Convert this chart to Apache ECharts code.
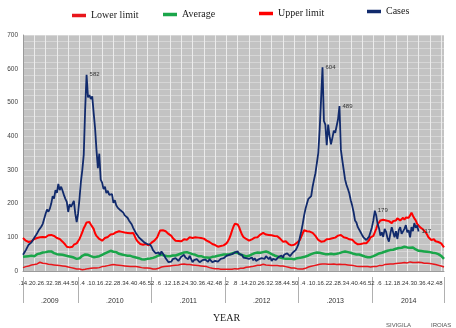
<!DOCTYPE html>
<html>
<head>
<meta charset="utf-8">
<script src="https://cdn.jsdelivr.net/npm/echarts@6/dist/echarts.min.js"></script>
<style>
  html, body { margin: 0; padding: 0; background: #ffffff; }
  #chart { width: 456px; height: 328px; }
</style>
</head>
<body>
<div id="chart"></div>
<script>
// Weekly surveillance series, 2009 week 14 to 2014 week 52
const years = [2009, 2010, 2011, 2012, 2013, 2014];
const yearLabels = ['.2009', '.2010', '.2011', '.2012', '.2013', '2014'];
const firstWeek = 14;
const weeksPerYear = 52;
const labeledCases = [582, 604, 489, 179, 117];

const lowerLimit = [
  10,12,13,14,15,17,18,20,19,22, 21,24,26,25,23,24,22,21,20,21, 19,20,18,19,17,18,16,17,15,16, 14,14,12,13,10,9,8,7,6,
  5,6,5,4,6,5,6,7,6,8, 7,9,10,9,11,10,12,13,12,14, 15,16,17,18,17,19,20,18,19,17, 18,16,17,15,16,14,15,13,14,13, 12,13,11,12,12,10,11,9,8,9, 7,8,
  7,6,7,6,6,8,10,12,14,13, 15,14,16,15,17,16,18,17,19,18, 19,20,19,21,20,19,18,19,17,18, 16,17,15,16,14,15,13,14,12,13, 11,10,9,8,8,7,6,7,6,5, 6,5,
  6,5,6,5,6,5,6,7,6,6, 7,8,9,8,10,11,10,12,12,13, 14,15,16,17,18,17,19,20,19,18, 19,17,18,16,17,16,15,16,14,15, 14,15,14,13,12,11,10,9,8,9, 8,7,
  7,6,7,6,6,8,10,12,13,14, 15,16,17,18,19,20,19,21,20,21, 19,20,21,20,19,21,20,19,21,20, 20,19,18,19,17,18,16,17,15,16, 15,14,14,13,14,13,12,13,12,13, 12,12,
  12,13,14,13,15,16,17,16,18,19, 18,20,20,21,22,21,23,22,24,23, 25,24,26,25,26,24,25,27,26,25, 26,25,26,26,24,25,24,23,22,23, 21,22,20,21,20,19,18,17,16,15, 14,12
];

const average = [
  42,40,43,41,44,43,45,46,44,48, 50,49,52,54,55,53,56,55,58,57, 58,55,53,54,50,52,49,47,48,45, 46,43,44,41,42,39,40,37,36,
  36,38,42,45,47,49,50,48,46,44, 42,41,40,42,41,44,46,48,49,52, 54,56,58,60,58,57,55,56,53,51, 50,49,50,47,46,45,44,45,43,42, 43,40,39,38,37,35,36,34,35,36, 35,37,
  37,39,40,42,44,46,48,49,47,46, 45,44,43,44,45,46,47,46,48,49, 50,52,53,55,54,56,55,53,52,50, 49,48,46,44,43,44,42,41,42,40, 41,39,40,42,41,43,44,45,46,47, 48,49,
  48,49,50,49,51,52,54,55,54,53, 51,49,47,46,44,43,44,45,47,49, 51,53,54,55,56,54,55,56,57,58, 56,55,53,50,48,46,44,43,42,40, 39,38,37,36,35,36,35,36,34,35, 36,38,
  38,39,40,41,42,43,44,46,48,50, 51,53,54,55,55,54,53,52,51,50, 49,50,49,51,52,50,49,51,52,53, 55,56,57,58,57,56,55,54,53,51, 50,49,48,49,47,46,44,43,42,41, 40,41,
  42,44,46,48,50,52,55,54,56,57, 58,60,61,62,64,63,65,66,67,68, 70,69,71,72,72,70,71,69,72,70, 66,64,62,60,58,59,57,58,56,57, 55,56,55,54,55,53,52,50,48,45, 42,36
];

const upperLimit = [
  98,94,90,88,86,84,88,92,95,97, 98,96,100,99,101,103,100,104,106,105, 107,102,104,100,98,99,95,92,87,84, 78,72,75,70,74,72,78,76,82,
  87,95,105,115,127,135,144,140,145,138, 136,125,112,104,101,95,92,90,94,98, 97,101,104,108,106,110,113,115,112,118, 121,116,118,114,110,113,108,112,110,113, 104,95,88,84,80,82,78,76,80,78, 76,80,
  84,88,90,92,100,110,120,124,121,126, 118,115,110,107,104,98,95,90,87,89, 90,88,92,94,96,93,97,100,101,98, 102,100,96,99,97,98,94,96,92,90, 88,86,84,80,82,77,74,72,76,74, 78,76,
  78,82,88,96,107,120,132,140,142,138, 130,118,108,101,97,95,92,90,92,94, 96,99,101,100,104,108,110,113,111,108, 110,107,104,106,102,104,101,103,99,96, 92,87,85,88,84,80,78,76,80,78, 82,84,
  84,92,102,112,121,124,118,121,117,115, 113,108,104,98,92,89,87,90,88,91, 94,92,95,98,97,101,99,103,105,102, 107,104,100,102,98,96,94,92,93,88, 84,82,79,78,80,78,82,84,82,86, 92,100,
  98,104,107,125,138,144,150,154,152,156, 150,146,148,144,142,148,152,150,156,154, 150,155,158,152,159,162,158,165,173,164, 156,150,140,135,130,128,124,121,115,108, 100,96,92,90,94,88,87,86,84,82, 78,70
];

const cases = [
  48,55,62,70,78,74,85,92,90,105, 112,120,118,132,140,155,170,182,176,185, 200,222,215,240,232,258,240,250,238,225, 214,205,175,198,190,185,208,170,145,
  170,215,265,300,345,480,582,515,522,510, 518,470,425,360,305,348,271,262,243,250, 231,238,226,222,228,202,210,195,188,192, 180,178,173,165,160,158,150,144,138,128, 120,112,107,100,96,92,87,84,88,80, 76,78,
  72,62,58,52,49,55,48,58,52,45, 38,32,26,30,28,35,32,38,35,30, 35,42,38,48,40,45,35,45,40,26, 32,28,35,30,26,28,32,29,34,30, 27,35,30,26,24,30,27,28,33,36, 40,38,
  38,45,40,48,43,50,45,55,52,58, 50,45,48,40,44,38,42,36,35,40, 32,38,30,29,35,32,38,42,36,44, 40,35,42,30,36,38,33,35,42,38, 46,40,49,45,52,48,44,49,55,52, 62,70,
  80,100,118,140,165,185,200,214,210,222, 250,271,290,320,350,420,510,604,445,434, 373,434,400,376,395,416,410,405,450,489, 360,329,300,271,255,243,230,210,194,175, 150,144,130,127,115,107,100,95,92,88, 102,116,
  130,150,179,165,140,127,105,115,101,125, 116,98,87,110,130,127,100,118,95,121, 130,110,107,125,136,115,121,100,130,118, 142,128,135,117,null,null,null,null,null,null,
  null,null,null,null,null,null,null,null,null,null, null,null
];

// Category list "year-week"
const weeks = [];
years.forEach((y, k) => {
  for (let w = (k === 0 ? firstWeek : 1); w <= weeksPerYear; w++) weeks.push(y + '-' + w);
});

// Year blocks: boundary ticks and centred year labels
const yearStart = years.map(y => weeks.findIndex(c => c.startsWith(y + '-')));
const lastIndex = weeks.length - 1;
const boundaryIdx = new Set(yearStart.concat([lastIndex]));
const midLabel = {};
yearStart.forEach((s, k) => {
  const e = k + 1 < yearStart.length ? yearStart[k + 1] - 1 : lastIndex;
  midLabel[Math.round((s + e) / 2)] = yearLabels[k];
});

const casesData = cases.map(v => labeledCases.includes(v)
  ? { value: v, label: { show: true } }
  : v);

const sans = 'Liberation Sans';
const serif = 'Liberation Serif';

function legendAt(name, left, top) {
  return {
    data: [name], left: left, top: top, padding: 0,
    icon: 'rect', itemWidth: 14, itemHeight: 3.5,
    textStyle: { fontFamily: serif, fontSize: 10, color: '#1a1a1a' }
  };
}

const chart = echarts.init(document.getElementById('chart'), null, { renderer: 'canvas' });
chart.setOption({
  animation: false,
  backgroundColor: '#ffffff',
  title: [
    { text: 'SIVIGILA', left: 381, top: 317, textStyle: { fontFamily: sans, fontSize: 6, fontWeight: 'normal', color: '#555' } },
    { text: 'IROIAS', left: 426, top: 317, textStyle: { fontFamily: sans, fontSize: 6, fontWeight: 'normal', color: '#555' } }
  ],
  legend: [
    legendAt('Lower limit', 72, 10.5),
    legendAt('Average', 163, 9.5),
    legendAt('Upper limit', 259, 8.5),
    legendAt('Cases', 367, 6.5)
  ],
  grid: {
    left: 23, right: 12, top: 35, bottom: 51,
    show: true, backgroundColor: '#c3c3c3', borderWidth: 0
  },
  xAxis: [
    {
      type: 'category', data: weeks, boundaryGap: false,
      axisLine: { show: true, lineStyle: { color: '#9a9a9a' } },
      axisTick: { show: false },
      axisLabel: {
        interval: 5, margin: 9, fontFamily: sans, fontSize: 6, color: '#333',
        formatter: v => '.' + v.split('-')[1]
      },
      splitLine: { show: true, interval: 7, lineStyle: { color: '#ececec', width: 1 } }
    },
    {
      type: 'category', data: weeks, boundaryGap: false, position: 'bottom', offset: 6,
      axisLine: { show: false },
      axisTick: {
        show: true, length: 26, inside: false,
        interval: (i) => boundaryIdx.has(i),
        lineStyle: { color: '#b0b0b0' }
      },
      axisLabel: {
        margin: 21, fontFamily: sans, fontSize: 7, color: '#333',
        interval: (i) => midLabel[i] !== undefined,
        formatter: (v, i) => midLabel[i] || ''
      },
      splitLine: { show: false },
      name: 'YEAR', nameLocation: 'middle', nameGap: 36,
      nameTextStyle: { fontFamily: serif, fontSize: 10, color: '#1a1a1a', padding: [0, 14, 0, 0] }
    }
  ],
  yAxis: {
    type: 'value', min: 0, max: 700, interval: 100,
    axisLine: { show: true, lineStyle: { color: '#9a9a9a' } },
    axisTick: { show: false },
    axisLabel: { fontFamily: sans, fontSize: 6.5, color: '#404040', margin: 5 },
    splitLine: { show: true, lineStyle: { color: '#d6d6d6' } },
    minorTick: { show: false, splitNumber: 5 },
    minorSplitLine: { show: true, lineStyle: { color: '#d6d6d6' } }
  },
  series: [
    {
      name: 'Lower limit', type: 'line', data: lowerLimit, showSymbol: false,
      lineStyle: { color: '#e8161b', width: 1.5 }, itemStyle: { color: '#e8161b' }
    },
    {
      name: 'Average', type: 'line', data: average, showSymbol: false,
      lineStyle: { color: '#1aa64a', width: 2.5 }, itemStyle: { color: '#1aa64a' }
    },
    {
      name: 'Upper limit', type: 'line', data: upperLimit, showSymbol: false,
      lineStyle: { color: '#ff0000', width: 2 }, itemStyle: { color: '#ff0000' }
    },
    {
      name: 'Cases', type: 'line', data: casesData,
      symbol: 'circle', symbolSize: 0, showSymbol: true, showAllSymbol: true,
      lineStyle: { color: '#112a6c', width: 1.8 }, itemStyle: { color: '#112a6c' },
      label: { show: false, position: 'right', distance: 3, fontFamily: sans, fontSize: 6, color: '#333' }
    }
  ]
});
</script>
</body>
</html>
